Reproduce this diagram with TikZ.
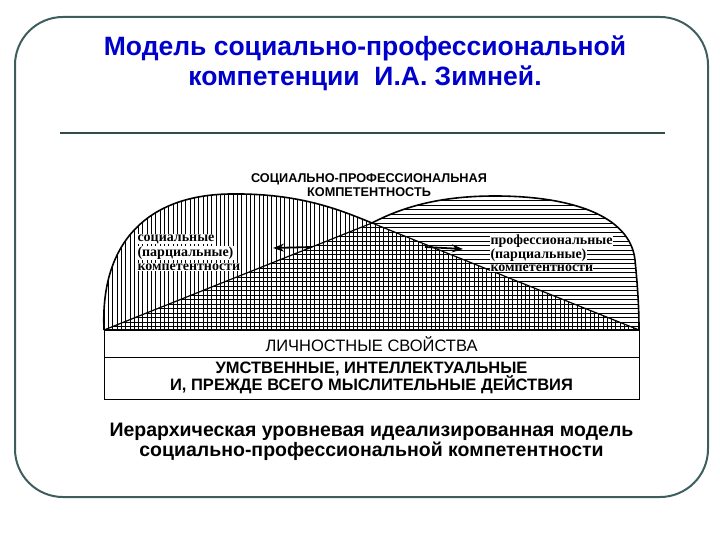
\documentclass[tikz,border=0pt]{standalone}
\usepackage{fontspec}
\setmainfont{Liberation Sans}
\newfontfamily\partfont{Liberation Serif}
\usetikzlibrary{arrows.meta}
\definecolor{framegray}{RGB}{62,94,94}
\definecolor{titleblue}{RGB}{0,0,205}

\begin{document}
\begin{tikzpicture}[x=1pt, y=-1pt,
  hatch/.style={line width=0.55pt},
  outline/.style={line width=1.6pt},
  partlabel/.style={font=\partfont\bfseries\fontsize{14}{16}\selectfont, fill=white, inner sep=0.3pt, anchor=west},
  levelbox/.style={draw, line width=0.8pt}]
  \useasboundingbox (0,0) rectangle (720,540);
  % frame and title
  \draw[framegray, line width=2pt, rounded corners=48pt] (15,17) rectangle (708,497);
  \node[font=\bfseries\fontsize{26.5}{30}\selectfont, text=titleblue, align=center] (title) at (365,63) {Модель социально-профессиональной\\компетенции\ \ И.А. Зимней.};
  \draw[framegray!80!black, line width=2pt] (60,133) -- (665,133);
  % hatched areas
  \coordinate (base left) at (104,330);
  \coordinate (base right) at (639,330);
  \coordinate (apex) at (372,223);
  \begin{scope}
    \clip (base left) .. controls (100,240) and (150,195) .. (230,194) .. controls (300,193) and (340,210) .. (apex) -- (base right) -- cycle;
    \foreach \x in {104,108.3,...,640} \draw[hatch] (\x,185) -- (\x,331);
  \end{scope}
  \begin{scope}
    \clip (base left) -- (apex) .. controls (410,203) and (450,196) .. (495,196) .. controls (570,196) and (630,215) .. (635,260) .. controls (638,290) and (639,310) .. (base right) -- cycle;
    \foreach \y in {196,200.5,...,331} \draw[hatch] (100,\y) -- (645,\y);
  \end{scope}
  \draw[outline] (base left) .. controls (100,240) and (150,195) .. (230,194) .. controls (300,193) and (340,210) .. (apex);
  \draw[outline] (apex) .. controls (410,203) and (450,196) .. (495,196) .. controls (570,196) and (630,215) .. (635,260) .. controls (638,290) and (639,310) .. (base right);
  \draw[line width=1.2pt] (base left) -- (apex) -- (base right);
  % arrows
  \coordinate (soc tail) at (312,247);
  \coordinate (soc tip) at (273,248);
  \coordinate (prof tail) at (425,247);
  \coordinate (prof tip) at (463,249);
  \draw[line width=1.8pt, -{Stealth[length=11pt, width=8pt]}] (soc tail) -- (soc tip);
  \draw[line width=1.8pt, -{Stealth[length=11pt, width=8pt]}] (prof tail) -- (prof tip);
  % labels
  \node[font=\bfseries\fontsize{12.7}{14}\selectfont, align=center] (whole) at (369,185) {СОЦИАЛЬНО-ПРОФЕССИОНАЛЬНАЯ\\КОМПЕТЕНТНОСТЬ};
  \node[partlabel] (soc1) at (137,239) {социальные};
  \node[partlabel] (soc2) at (137,253) {(парциальные)};
  \node[partlabel] (soc3) at (137,267) {компетентности};
  \node[partlabel] (prof1) at (490,241) {профессиональные};
  \node[partlabel] (prof2) at (490,255) {(парциальные)};
  \node[partlabel] (prof3) at (490,268) {компетентности};
  % levels
  \draw[levelbox] (base left) rectangle (639,399);
  \draw[levelbox] (104,357) -- (639,357);
  \draw[line width=2.6pt] (base left) -- (base right);
  \node[font=\fontsize{16.5}{18}\selectfont] (personal) at (371.5,344) {ЛИЧНОСТНЫЕ СВОЙСТВА};
  \node[font=\bfseries\fontsize{16.5}{17.5}\selectfont, align=center] (mental) at (371.5,378) {УМСТВЕННЫЕ, ИНТЕЛЛЕКТУАЛЬНЫЕ\\И, ПРЕЖДЕ ВСЕГО МЫСЛИТЕЛЬНЫЕ ДЕЙСТВИЯ};
  % caption
  \node[font=\bfseries\fontsize{19.5}{19.5}\selectfont, align=center] (caption) at (371.5,442) {Иерархическая уровневая идеализированная модель\\социально-профессиональной компетентности};
\end{tikzpicture}
\end{document}
